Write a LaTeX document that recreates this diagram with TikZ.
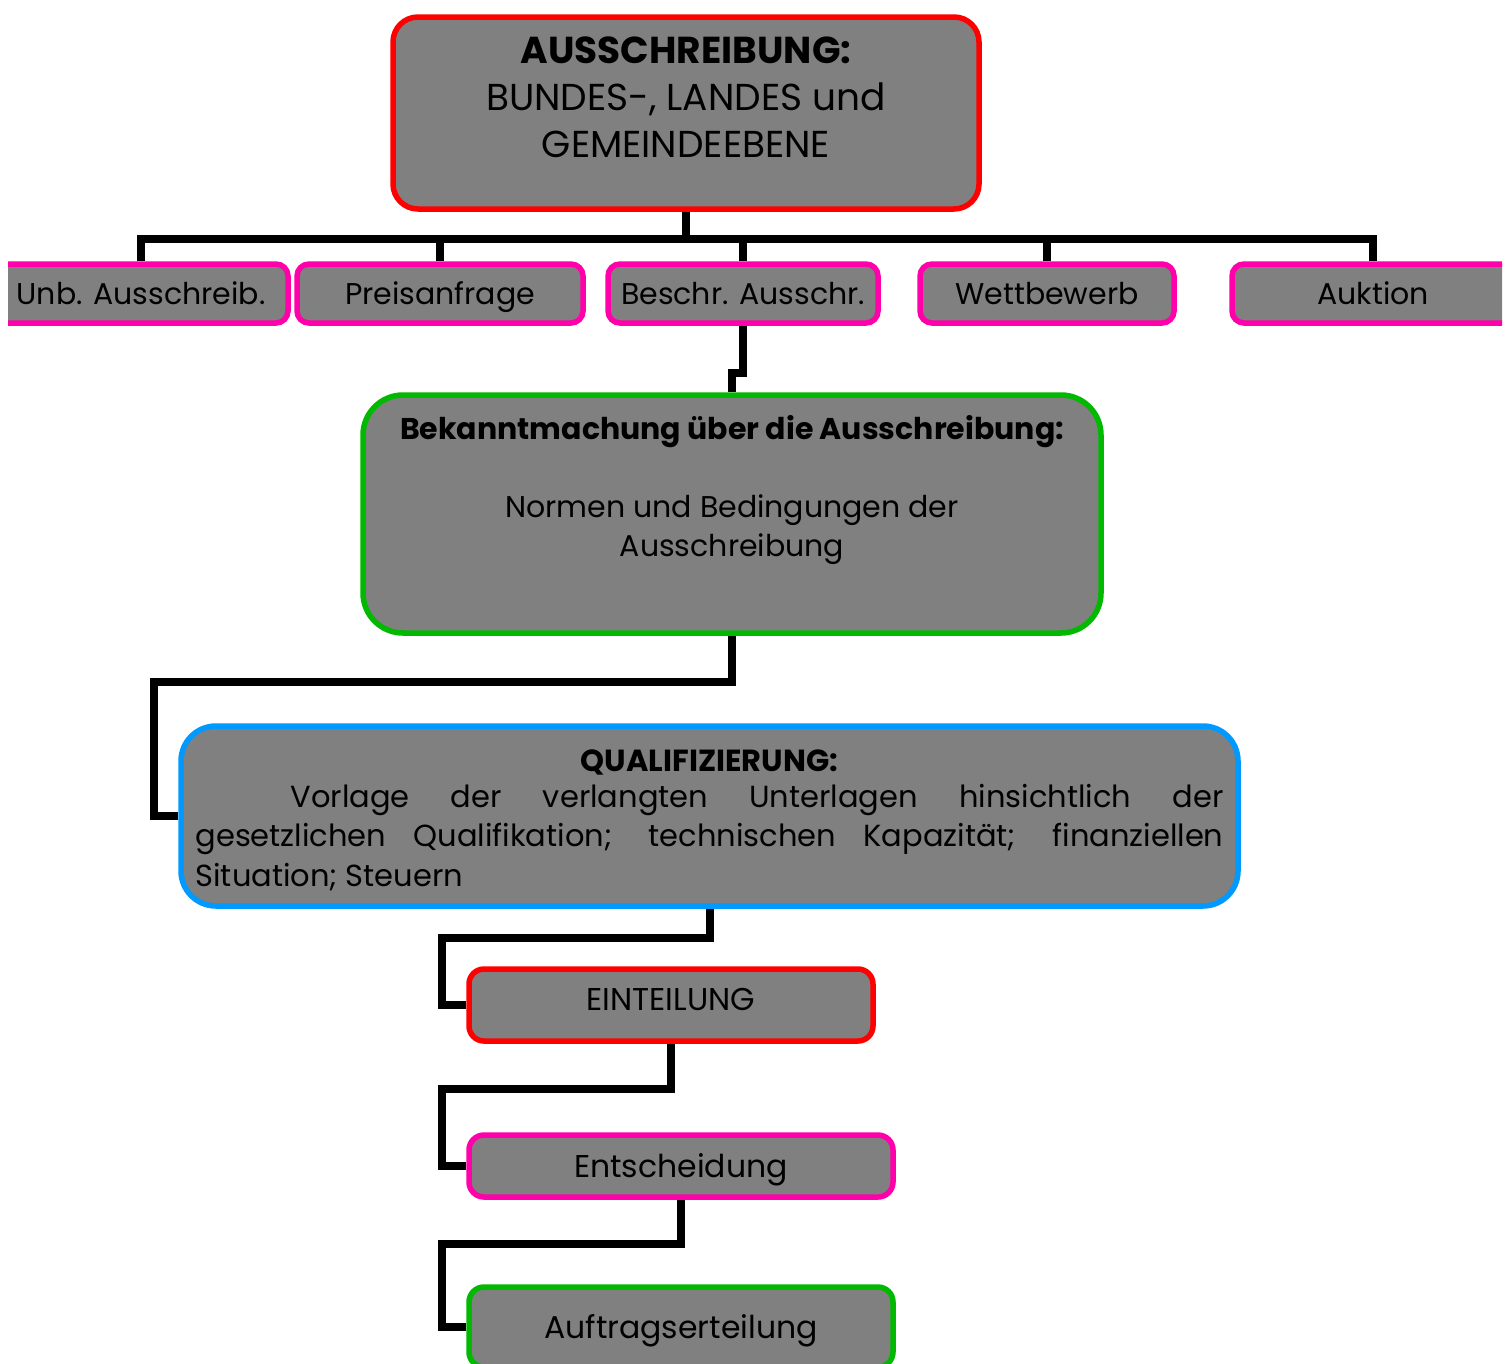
\documentclass[tikz,border=0pt]{standalone}
\usepackage{fontspec}
\setmainfont{Poppins}
\usetikzlibrary{calc,backgrounds}
\definecolor{rotrand}{RGB}{255,0,0}
\definecolor{pinkrand}{RGB}{255,0,170}
\definecolor{gruenrand}{RGB}{0,185,0}
\definecolor{blaurand}{RGB}{0,153,255}
\definecolor{grau}{RGB}{128,128,128}
\tikzset{
  kasten/.style={fill=grau, line width=5.5pt, rounded corners=#1, inner sep=0pt},
  reihe/.style={kasten=12pt, draw=pinkrand, minimum height=59pt, font=\fontsize{30}{34}\selectfont,
    text height=21pt, text depth=0pt},
  schritt/.style={kasten=15pt, font=\fontsize{31.5}{34}\selectfont, text height=22pt, text depth=0pt},
  verbinder/.style={line width=8pt, black},
}

\begin{document}
\begin{tikzpicture}[x=1pt,y=-1pt]
\useasboundingbox (0,0) rectangle (1507,1363);
\clip (8,0) rectangle (1502,1363);

%oberster Kasten
\node[kasten=25pt, draw=rotrand, minimum width=586pt, minimum height=192pt] (ausschr) at (686,113) {};
\node[align=center, font=\fontsize{37.5}{47}\selectfont] (ausschrtxt) at (686,97)
  {\textbf{AUSSCHREIBUNG:}\\BUNDES-, LANDES und\\GEMEINDEEBENE};

%Verfahrensarten
\node[reihe, minimum width=294pt] (unb) at (141,293.5) {Unb. Ausschreib.};
\node[reihe, minimum width=286pt] (pa) at (440,293.5) {Preisanfrage};
\node[reihe, minimum width=270pt] (beschr) at (743,293.5) {Beschr. Ausschr.};
\node[reihe, minimum width=254pt] (wett) at (1047,293.5) {Wettbewerb};
\node[reihe, minimum width=282pt] (auk) at (1373,293.5) {Auktion};

%Bekanntmachung
\node[kasten=40pt, draw=gruenrand, minimum width=738pt, minimum height=238pt] (bek) at (732,514) {};
\node[align=center, font=\fontsize{30}{39}\selectfont] (bektxt) at (732,490)
  {\textbf{Bekanntmachung über die Ausschreibung:}\\ \\Normen und Bedingungen der\\Ausschreibung};

%Qualifizierung
\node[kasten=35pt, draw=blaurand, minimum width=1057pt, minimum height=180pt] (qual) at (709.5,816) {};
\node[text width=1028pt, align=justify, inner sep=0pt, font=\fontsize{30.5}{39.5}\selectfont] (qualtxt) at (709.5,820.5)
  {{\centering\textbf{QUALIFIZIERUNG:}\par}\vspace{-4pt}%
   \hspace*{95pt}Vorlage der verlangten Unterlagen hinsichtlich der\linebreak
   gesetzlichen Qualifikation; technischen Kapazität; finanziellen\linebreak Situation; Steuern};

%weitere Schritte
\node[schritt, draw=rotrand, minimum width=404pt, minimum height=72pt, text depth=12pt] (einteil) at (671,1005) {EINTEILUNG};
\node[schritt, draw=pinkrand, minimum width=424pt, minimum height=62pt] (entsch) at (681,1166) {Entscheidung};
\node[schritt, draw=gruenrand, minimum width=424pt, minimum height=80pt] (auftrag) at (681,1327) {Auftragserteilung};

\begin{scope}[on background layer]
\coordinate (bus) at (686,239); %Sammelleitung
\draw[verbinder] (ausschr.south) -- (bus);
\foreach \n in {unb,pa,beschr,wett,auk}
  \draw[verbinder] (bus) -| (\n.north);

\draw[verbinder] (beschr.south) -- ++(0,47) -| (bek.north);
\draw[verbinder] (bek.south) -- ++(0,46) -| ($(qual.west)+(-24,0)$) -- (qual.west);
\draw[verbinder] (qual.south) -- ++(0,29) -| ($(einteil.west)+(-24,0)$) -- (einteil.west);
\draw[verbinder] (einteil.south) -- ++(0,45) -| ($(entsch.west)+(-24,0)$) -- (entsch.west);
\draw[verbinder] (entsch.south) -- ++(0,44) -| ($(auftrag.west)+(-24,0)$) -- (auftrag.west);
\end{scope}
\end{tikzpicture}
\end{document}
